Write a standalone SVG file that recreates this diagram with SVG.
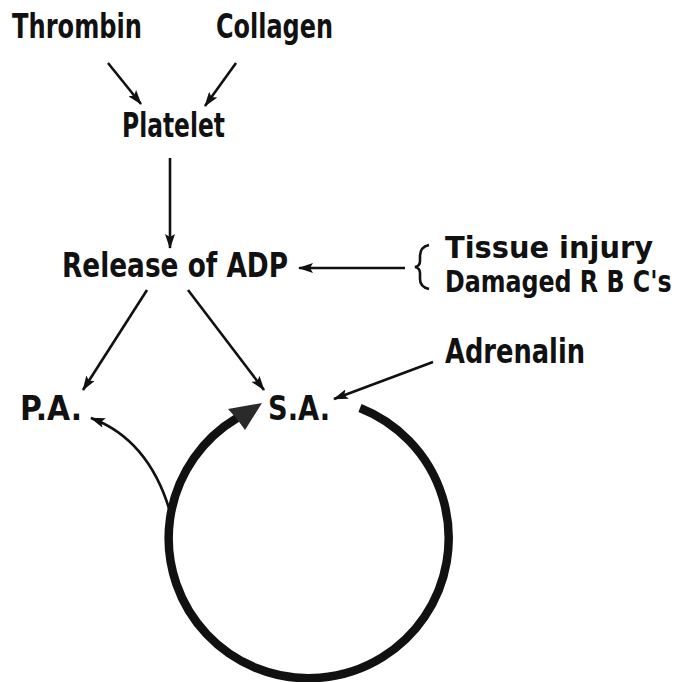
<svg xmlns="http://www.w3.org/2000/svg" width="684" height="682" viewBox="0 0 684 682">
<style>
  text { font-family: "DejaVu Sans", "Liberation Sans", sans-serif; font-stretch: condensed; font-weight: bold; font-size: 33px; fill: #111; }
  text.sm { font-size: 30px; }
  .thin { fill: none; stroke: #111; stroke-width: 2.6; }
  .thick { fill: none; stroke: #111; stroke-width: 8.5; }
</style>
<defs>
  <marker id="ah" viewBox="0 0 15 10" refX="14" refY="5" markerWidth="15" markerHeight="10" markerUnits="userSpaceOnUse" orient="auto">
    <path d="M0,0 L15,5 L0,10 L3,5 Z" fill="#111"/>
  </marker>
</defs>
<rect width="684" height="682" fill="#ffffff"/>
<g id="thrombin"><text x="12" y="38" textLength="130" lengthAdjust="spacingAndGlyphs">Thrombin</text></g>
<g id="collagen"><text x="216" y="38" textLength="117" lengthAdjust="spacingAndGlyphs">Collagen</text></g>
<g id="platelet"><text x="122" y="137" textLength="103" lengthAdjust="spacingAndGlyphs">Platelet</text></g>
<g id="release"><text x="62" y="277" textLength="226" lengthAdjust="spacingAndGlyphs">Release of ADP</text></g>
<g id="causes">
  <path class="thin" d="M429,245 Q420,247 420,256 L420,261 Q420,266 415,267 Q420,268 420,273 L420,279 Q420,287 429,289"/>
  <text class="sm" x="445" y="258" textLength="208" lengthAdjust="spacingAndGlyphs">Tissue injury</text>
  <text class="sm" transform="translate(445,292) scale(0.88,1)" x="0" y="0">Damaged R B C's</text>
</g>
<g id="adrenalin"><text x="445" y="363" textLength="140" lengthAdjust="spacingAndGlyphs">Adrenalin</text></g>
<g id="pa"><text x="20" y="420" textLength="62" lengthAdjust="spacingAndGlyphs">P.A.</text></g>
<g id="sa"><text x="268" y="420" textLength="62" lengthAdjust="spacingAndGlyphs">S.A.</text></g>
<g id="connectors">
  <line class="thin" x1="108" y1="63" x2="141" y2="104" marker-end="url(#ah)"/>
  <line class="thin" x1="236" y1="63" x2="205" y2="106" marker-end="url(#ah)"/>
  <line class="thin" x1="170" y1="158" x2="170" y2="248" marker-end="url(#ah)"/>
  <line class="thin" x1="405" y1="268" x2="299" y2="268" marker-end="url(#ah)"/>
  <line class="thin" x1="147" y1="290" x2="83" y2="390" marker-end="url(#ah)"/>
  <line class="thin" x1="188" y1="290" x2="264" y2="390" marker-end="url(#ah)"/>
  <line class="thin" x1="433" y1="362" x2="334" y2="399" marker-end="url(#ah)"/>
  <path class="thin" d="M171,515 Q150,440 91,418" marker-end="url(#ah)"/>
  <path class="thick" d="M360,408 A140,140 0 1 1 237,418"/>
  <path d="M262,403 L245,430 L237,419 L228,409 Z" fill="#2a2a2a"/>
</g>
</svg>
